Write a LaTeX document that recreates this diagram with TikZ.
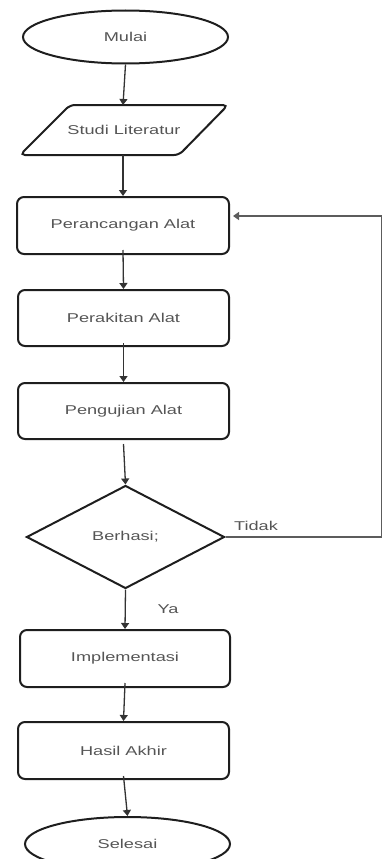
\documentclass[tikz,border=0pt]{standalone}
\usepackage{fontspec}
\setmainfont{Liberation Sans}[FakeStretch=1.42]
\usetikzlibrary{shapes.geometric,arrows.meta}
\definecolor{txt}{HTML}{555555}
\definecolor{ln}{HTML}{1E1E1E}
\definecolor{cn}{HTML}{333333}
\tikzset{
  base/.style={draw=ln, line width=2pt, text=txt, font=\fontsize{12.8}{14}\selectfont, inner sep=0pt},
  term/.style={base, ellipse, minimum width=205pt, minimum height=53pt},
  proc/.style={base, rectangle, rounded corners=7pt, minimum width=211pt, minimum height=56pt},
  dec/.style={base, diamond, minimum width=198pt, minimum height=103pt},
  lbl/.style={text=txt, font=\fontsize{12.8}{14}\selectfont, inner sep=0pt},
  conn/.style={draw=cn, line width=1.3pt, -{Triangle[width=8pt,length=6pt]}},
  plain/.style={draw=cn!80, line width=1.2pt}
}
\begin{document}
\begin{tikzpicture}[x=1pt,y=-1pt]
\useasboundingbox (0,0) rectangle (383,859);
\node[term] (mulai) at (125.5,37) {Mulai};
\node[lbl] (studi) at (124,130) {Studi Literatur};
\draw[draw=ln, line width=2pt, rounded corners=5pt] (20,155) -- (70,105) -- (228,105) -- (179,155) -- cycle;
\coordinate (studiN) at (123,105);
\coordinate (studiS) at (123,155);
\node[proc, minimum width=212pt, minimum height=57pt] (peranc) at (123,225.5) {Perancangan Alat};
\node[proc] (perak) at (123.5,318) {Perakitan Alat};
\node[proc] (pengu) at (123.5,411) {Pengujian Alat};
\node[dec] (berh) at (125.5,537) {Berhasi;};
\node[proc, minimum width=210pt, minimum height=57pt] (impl) at (125,658.5) {Implementasi};
\node[proc, minimum height=57pt] (hasil) at (123.5,750.5) {Hasil Akhir};
\node[term, minimum height=54pt] (seles) at (127.5,844) {Selesai};
\node[lbl] (tidak) at (256,526) {Tidak};
\node[lbl] (ya) at (168,609) {Ya};
\coordinate (c1) at (381.5,537);
\coordinate (c2) at (381.5,216);
\draw[conn] (mulai.south) -- (studiN);
\draw[conn] (studiS) -- (peranc.north);
\draw[conn] ([yshift=5pt]peranc.south) -- (perak.north);
\draw[conn] ([yshift=4pt]perak.south) -- (pengu.north);
\draw[conn] ([yshift=-4pt]pengu.south) -- (berh.north);
\draw[conn] (berh.south) -- (impl.north);
\draw[conn] ([yshift=5pt]impl.south) -- (hasil.north);
\draw[conn] ([yshift=4pt]hasil.south) -- (seles.north);
\draw[plain] (berh.east) -- (c1) -- (c2);
\draw[conn, draw=cn!80, shorten >=3pt] (c2) -- (peranc.east |- c2);
\end{tikzpicture}
\end{document}
